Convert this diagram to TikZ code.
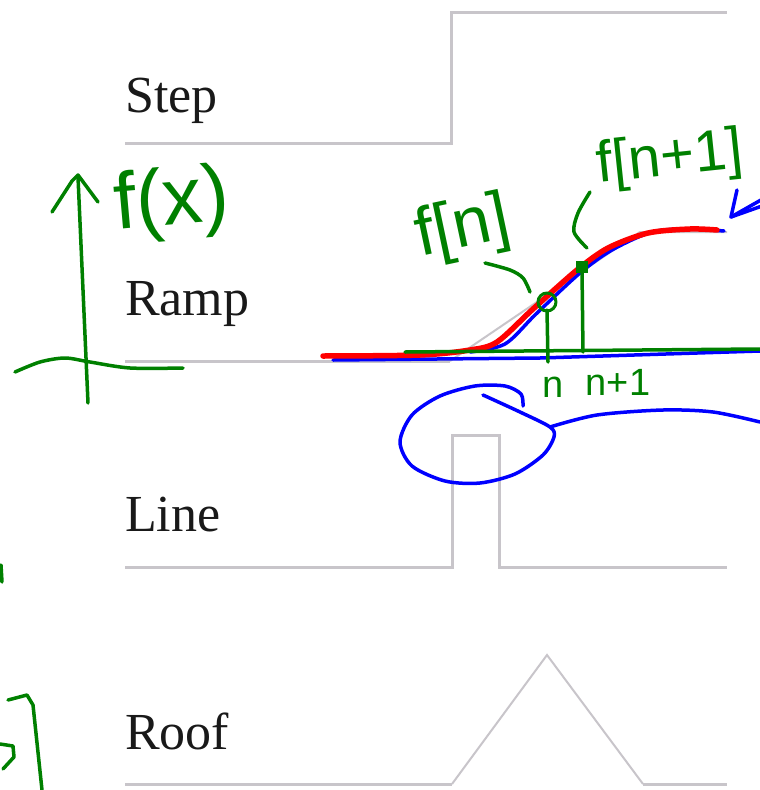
\documentclass[tikz,border=0pt]{standalone}
\usepackage{fontspec}
\setmainfont{Liberation Serif}
\newfontfamily\handfont{Liberation Sans}
\definecolor{edgegray}{RGB}{200,197,202}
\definecolor{inkgreen}{RGB}{0,128,0}
\definecolor{inkblue}{RGB}{0,0,255}
\definecolor{inkred}{RGB}{255,0,0}
\tikzset{
  edge/.style={draw=edgegray, line width=3pt},
  thinedge/.style={draw=edgegray, line width=2pt},
  profile/.style={anchor=base west, inner sep=0pt, text=black!90, font=\fontsize{52}{60}\selectfont},
  ink/.style={draw=inkgreen, line width=3.5pt, line cap=round, line join=round},
  pen/.style={draw=inkblue, line width=3.5pt, line cap=round, line join=round},
  hand/.style={inner sep=0pt, text=inkgreen, font=\handfont}
}
\begin{document}
\begin{tikzpicture}[x=1pt, y=-1pt]
        \useasboundingbox (0,0) rectangle (760,790);
        \clip (0,0) rectangle (760,790);

        % profiles
        \node[profile] (steplabel) at (125,112) {Step};
        \node[profile] (ramplabel) at (125,315) {Ramp};
        \node[profile] (linelabel) at (125,531) {Line};
        \node[profile] (rooflabel) at (125,749) {Roof};

        \draw[edge] (125,143) -- (451,143) -- (451,12) -- (727,12);
        \draw[edge] (125,361) -- (450,361);
        \draw[thinedge] (450,361) -- (640,232) -- (727,232);
        \draw[edge] (125,567) -- (452,567) -- (452,435) -- (499,435) -- (499,567) -- (727,567);
        \draw[edge] (125,784) -- (452,784);
        \draw[thinedge] (452,784) -- (547,655) -- (643,784);
        \draw[edge] (643,784) -- (727,784);

        % traced ramp
        \draw[pen] (333,360) -- (540,358) -- (760,351);
        \draw[pen] plot[smooth] coordinates {(470,352) (505,344) (536,314) (580,273) (612,250) (652,232) (690,229) (724,231)};
        \draw[draw=inkred, line width=5.5pt, line cap=round] plot[smooth] coordinates {(323,356) (420,355) (470,350) (497,342) (533,309) (577,270) (608,248) (648,233) (690,229) (717,230)};
        \draw[pen] (737,190) -- (731,217) -- (762,206);
        \draw[pen] (731,217) -- (775,192);

        % axes
        \draw[ink] (88,403) -- (78,177);
        \draw[ink] (52,212) -- (72,181) -- (78,175) -- (98,202);
        \draw[ink] plot[smooth] coordinates {(15,372) (40,362) (65,358) (90,362) (130,368) (183,368)};
        \node[hand, font=\handfont\fontsize{80}{90}\selectfont, rotate=5] (fx) at (172,204) {f(x)};

        % samples
        \draw[ink] (405,352) -- (760,349);
        \draw[ink] (547,310) -- (548,362);
        \draw[ink] (582,270) -- (583,352);
        \draw[ink, line width=3pt] (547,302) circle (9);
        \fill[inkgreen] (576,261) rectangle (588,273);
        \node[hand, font=\handfont\fontsize{68}{78}\selectfont, rotate=12] (fn) at (463,229) {f[n]};
        \node[hand, font=\handfont\fontsize{58}{66}\selectfont, rotate=6] (fnext) at (670,160) {f[n+1]};
        \draw[ink] plot[smooth] coordinates {(485,263) (510,270) (523,278) (530,292)};
        \draw[ink] plot[smooth] coordinates {(590,192) (578,213) (574,232) (587,248)};
        \node[hand, font=\handfont\fontsize{38}{44}\selectfont] (nlabel) at (553,387) {n};
        \node[hand, font=\handfont\fontsize{38}{44}\selectfont] (nnext) at (618,382) {n+1};

        % loop round the line
        \draw[pen] plot[smooth] coordinates {(523,406) (521,394) (505,386) (475,386) (440,396) (412,415) (400,442) (412,466) (445,481) (480,483) (515,474) (543,455) (554,437) (550,427) (520,412) (483,395)};
        \draw[pen] plot[smooth] coordinates {(550,427) (597,415) (663,410) (713,412) (760,422)};

        % left margin marks
        \draw[ink] (1,565) -- (2,582);
        \draw[ink] (8,700) -- (27,695) -- (33,705) -- (42,790);
        \draw[ink] (0,744) -- (13,746) -- (14,757) -- (3,769);
\end{tikzpicture}
\end{document}
